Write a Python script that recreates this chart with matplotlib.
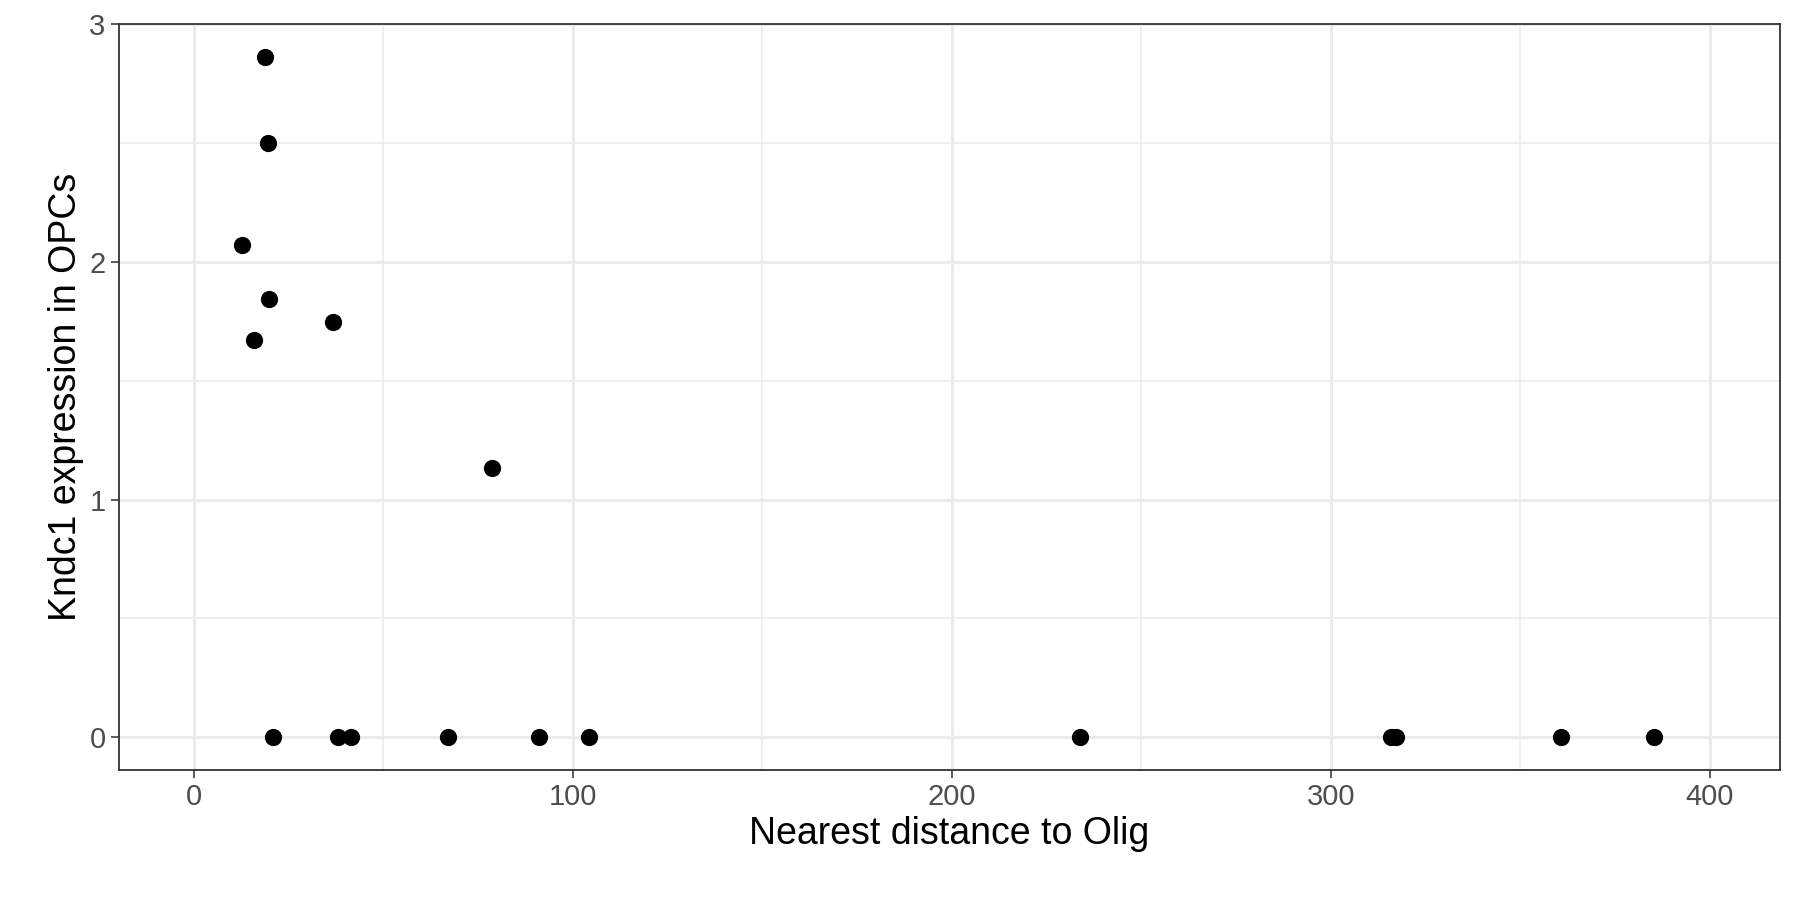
import matplotlib.pyplot as plt

distance = [18.9, 19.5, 12.8, 19.8, 15.8, 36.8, 78.8,
            21.0, 38.0, 41.4, 67.0, 91.0, 104.4, 233.8, 316.0, 317.2, 360.7, 385.4]
expression = [2.864, 2.50, 2.073, 1.845, 1.67, 1.748, 1.131,
              0, 0, 0, 0, 0, 0, 0, 0, 0, 0, 0]

plt.rcParams['font.family'] = ['Liberation Sans', 'DejaVu Sans']
fig = plt.figure(figsize=(18, 9), dpi=100)
ax = fig.add_axes([0.066, 0.145, 0.923, 0.828])

ax.set_xlim(-19.8, 418.6)
ax.set_ylim(-0.136, 3.0)
ax.set_xticks([0, 100, 200, 300, 400])
ax.set_yticks([0, 1, 2, 3])
ax.set_xticks([50, 150, 250, 350], minor=True)
ax.set_yticks([0.5, 1.5, 2.5], minor=True)
ax.grid(which='major', color='#EBEBEB', lw=2.2)
ax.grid(which='minor', color='#EBEBEB', lw=1.1)
ax.set_axisbelow(True)
for s in ax.spines.values():
    s.set_color('#333333')
    s.set_linewidth(1.3)
ax.tick_params(which='major', labelsize=21, colors='#4D4D4D', length=6, width=1.3)
ax.tick_params(which='minor', length=0)

ax.scatter(distance, expression, s=130, color='black', zorder=3)
ax.set_xlabel('Nearest distance to Olig', fontsize=27)
ax.set_ylabel('Kndc1 expression in OPCs', fontsize=27)

fig.savefig('out.png')
